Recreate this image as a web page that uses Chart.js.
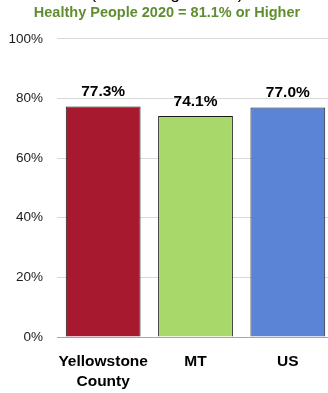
<!DOCTYPE html>
<html>
<head>
<meta charset="utf-8">
<script src="https://cdn.jsdelivr.net/npm/chart.js@4"></script>
<style>
html,body{margin:0;padding:0;background:#fff;overflow:hidden;width:328px;height:393px;}
#wrap{position:absolute;left:0;top:-20px;width:336px;height:413px;}
</style>
</head>
<body>
<div id="wrap"><canvas id="c"></canvas></div>
<script>
const categories = [["Yellowstone","County"], "MT", "US"];
const values = [77.3, 74.1, 77.0];
const barColors = ["#A6192E", "#A8D86A", "#5B84D6"];
const titleText = "(Women Age 50-74)";
const subtitleText = "Healthy People 2020 = 81.1% or Higher";

const FONT = "'Liberation Sans', Arial, sans-serif";

const valueLabels = {
  id: 'valueLabels',
  afterDatasetsDraw(chart) {
    const ctx = chart.ctx;
    const meta = chart.getDatasetMeta(0);
    ctx.save();
    ctx.font = "bold 15.5px " + FONT;
    ctx.fillStyle = "#000";
    ctx.textAlign = "center";
    ctx.textBaseline = "alphabetic";
    meta.data.forEach((bar, i) => {
      ctx.fillText(values[i].toFixed(1) + "%", bar.x, bar.y - 10);
    });
    ctx.restore();
  }
};

new Chart(document.getElementById('c'), {
  type: 'bar',
  data: {
    labels: categories,
    datasets: [{
      data: values,
      backgroundColor: barColors,
      borderColor: "#1a1a1a",
      borderWidth: 1,
      barPercentage: 0.81,
      categoryPercentage: 1
    }]
  },
  plugins: [valueLabels],
  options: {
    responsive: true,
    maintainAspectRatio: false,
    devicePixelRatio: 1,
    animation: false,
    layout: { padding: { left: 0, right: 2, top: 0, bottom: 0 } },
    plugins: {
      legend: { display: false },
      tooltip: { enabled: false },
      title: {
        display: true,
        text: titleText,
        color: "#000",
        font: { family: FONT, size: 17, weight: 'normal' },
        padding: { top: 4, bottom: 0 }
      },
      subtitle: {
        display: true,
        text: subtitleText,
        color: "#5E8E2E",
        font: { family: FONT, size: 14.5, weight: 'bold' },
        padding: { top: 0, bottom: 17 }
      }
    },
    scales: {
      x: {
        grid: { display: false, drawTicks: false },
        border: { display: false },
        ticks: {
          color: "#000",
          font: { family: FONT, size: 15.5, weight: 'bold', lineHeight: 1.33 },
          padding: 14,
          maxRotation: 0,
          autoSkip: false
        },
        afterFit(scale) { scale.height = 56; }
      },
      y: {
        min: 0,
        max: 100,
        grid: {
          color: c => (c.tick && c.tick.value === 0) ? "#A6A6A6" : "#D9D9D9",
          lineWidth: 1,
          drawTicks: false
        },
        border: { display: false },
        ticks: {
          stepSize: 20,
          color: "#1a1a1a",
          font: { family: FONT, size: 13.5 },
          padding: 14,
          callback: v => v + "%"
        },
        afterFit(scale) { scale.width = 57; }
      }
    }
  }
});
</script>
</body>
</html>
